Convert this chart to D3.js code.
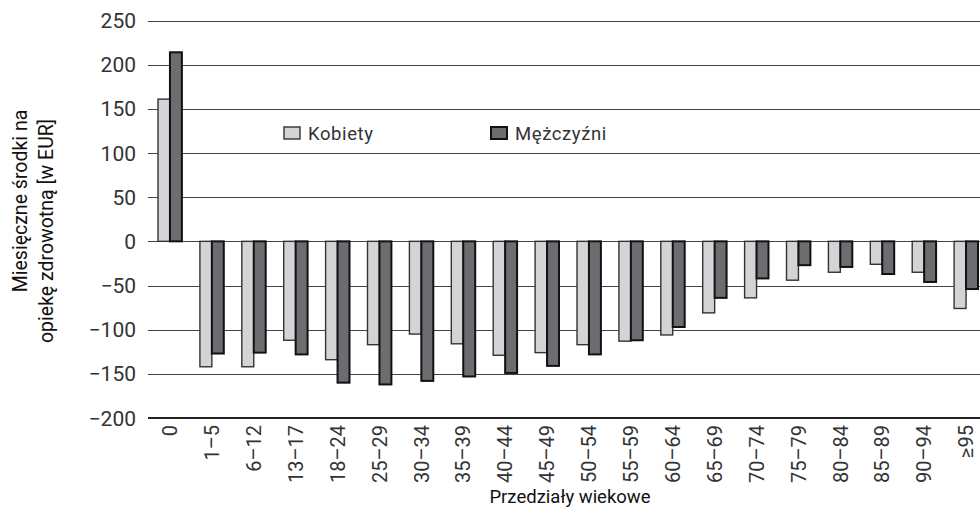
<!DOCTYPE html>
<html><head><meta charset="utf-8">
<script src="https://cdn.jsdelivr.net/npm/d3@7"></script>
<style>
html,body{margin:0;padding:0;background:#fff;}
text{font-family:Roboto,"DejaVu Sans",sans-serif;fill:#222;}
</style></head>
<body>
<svg id="chart" width="980" height="519"></svg>
<script>
const categories = ["0","1–5","6–12","13–17","18–24","25–29","30–34","35–39","40–44","45–49","50–54","55–59","60–64","65–69","70–74","75–79","80–84","85–89","90–94","≥95"];
const kobiety = [161,-142,-142,-112,-134,-117,-105,-116,-129,-126,-117,-113,-106,-81,-64,-44,-35,-26,-35,-76];
const mezczyzni = [214,-127,-126,-128,-160,-162,-158,-153,-149,-141,-128,-112,-97,-64,-42,-27,-29,-37,-46,-54];
const seriesNames = ["Kobiety","Mężczyźni"];
const yTicks = [-200,-150,-100,-50,0,50,100,150,200,250];

const svg = d3.select("#chart");
const colors = ["#d4d4d6","#6c6d71"];
const strokes = ["#333","#111"];
const strokeW = [1.4,2];

const x = d3.scaleBand().domain(categories).range([149,987]).paddingInner(0.43).paddingOuter(0.215);
const xs = d3.scaleBand().domain([0,1]).range([0,x.bandwidth()]);
const y = d3.scaleLinear().domain([-200,250]).range([418,20.5]);

// gridlines
svg.append("g").selectAll("line").data(yTicks.filter(d=>d!==-200)).join("line")
  .attr("x1",148).attr("x2",980)
  .attr("y1",d=>Math.round(y(d))+0.5).attr("y2",d=>Math.round(y(d))+0.5)
  .attr("stroke","#444").attr("stroke-width",1);

// y tick labels
svg.append("g").selectAll("text").data(yTicks).join("text")
  .attr("x",136).attr("y",d=>y(d)).attr("dy","0.36em")
  .attr("text-anchor","end").attr("font-size",21).style("fill","#333")
  .text(d=>d<0?"−"+Math.abs(d):d);

// bars
const data = categories.map((c,i)=>({c,vals:[kobiety[i],mezczyzni[i]]}));
const groups = svg.append("g").selectAll("g").data(data).join("g")
  .attr("transform",d=>`translate(${x(d.c)},0)`);
groups.selectAll("rect").data(d=>d.vals.map((v,k)=>({v,k}))).join("rect")
  .attr("x",d=>xs(d.k)).attr("width",xs.bandwidth())
  .attr("y",d=>Math.min(y(d.v),y(0))).attr("height",d=>Math.abs(y(d.v)-y(0)))
  .attr("fill",d=>colors[d.k]).attr("stroke",d=>strokes[d.k]).attr("stroke-width",d=>strokeW[d.k]);

// bottom axis line
svg.append("line").attr("x1",148).attr("x2",980).attr("y1",y(-200)).attr("y2",y(-200))
  .attr("stroke","#222").attr("stroke-width",2);

// x tick labels
svg.append("g").selectAll("text").data(categories).join("text")
  .attr("transform",d=>`translate(${x(d)+x.bandwidth()/2},425) rotate(-90)`)
  .attr("dy","0.36em").attr("text-anchor","end").attr("font-size",20).style("fill","#333")
  .text(d=>d);

// x title
svg.append("text").attr("x",570).attr("y",503).attr("text-anchor","middle")
  .attr("font-size",18.5).style("fill","#111").text("Przedziały wiekowe");

// y title
svg.append("text").attr("transform","translate(20,201) rotate(-90)").attr("dy","0.36em")
  .attr("text-anchor","middle").attr("font-size",19.5).style("fill","#111").text("Miesięczne środki na");
svg.append("text").attr("transform","translate(46,231) rotate(-90)").attr("dy","0.36em")
  .attr("text-anchor","middle").attr("font-size",19.5).style("fill","#111").text("opiekę zdrowotną [w EUR]");

// legend
const legX = [284,491];
const leg = svg.append("g").selectAll("g").data(seriesNames).join("g")
  .attr("transform",(d,i)=>`translate(${legX[i]},127)`);
leg.append("rect").attr("width",16).attr("height",12)
  .attr("fill",(d,i)=>colors[i]).attr("stroke",(d,i)=>strokes[i]).attr("stroke-width",(d,i)=>strokeW[i]);
leg.append("text").attr("x",24).attr("y",13).attr("font-size",18.5).attr("letter-spacing",0.6).style("fill","#333").text(d=>d);
</script>
</body></html>
